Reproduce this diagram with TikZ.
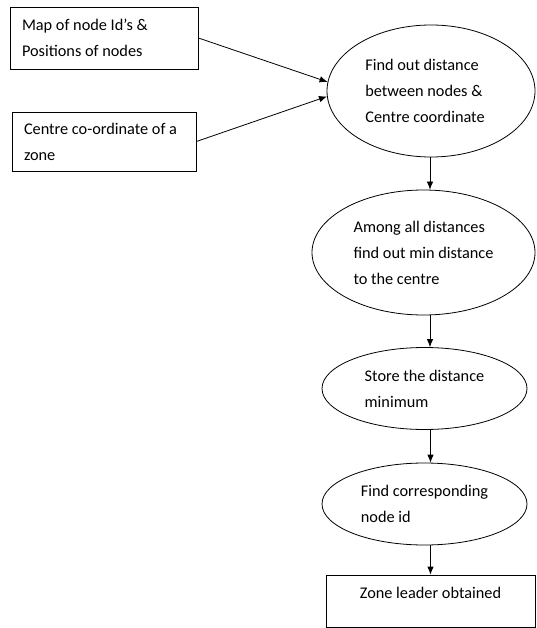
\documentclass[tikz,border=0pt]{standalone}
\usepackage{fontspec}
\setmainfont{Carlito}
\usetikzlibrary{shapes.geometric,arrows.meta,calc}
\begin{document}
\begin{tikzpicture}[x=1pt,y=-1pt,
  every node/.style={font=\fontsize{16.3pt}{26pt}\selectfont, text=black},
  inbox/.style={draw, line width=0.8pt, rectangle, align=flush left, inner xsep=12pt, inner ysep=0pt},
  oval/.style={draw, line width=0.8pt, ellipse, inner sep=0pt, align=left},
  flow/.style={line width=0.8pt, -{Latex[length=8pt,width=6.5pt]}}
]
\useasboundingbox (0,0) rectangle (536,628);
\fill[white] (0,0) rectangle (536,628);

\node[inbox, text width=164pt, minimum height=62pt] (B1) at (104,38) {Map of node Id’s \&\\Positions of nodes};
\node[inbox, text width=160pt, minimum height=59pt] (B2) at (104,141.5) {Centre co-ordinate of a\\zone};

\node[oval, minimum width=208pt, minimum height=132pt] (E1) at (431,91) {Find out distance\\between nodes \&\\Centre coordinate\hspace*{12pt}};
\node[oval, minimum width=223pt, minimum height=125pt] (E2) at (423.5,252.5) {Among all distances\\find out min distance\\to the centre};
\node[oval, minimum width=205pt, minimum height=82pt] (E3) at (424.5,388.5) {Store the distance\\minimum};
\node[oval, minimum width=205pt, minimum height=82pt] (E4) at (424.5,504) {Find corresponding\\node id};
\node[draw, line width=0.8pt, rectangle, minimum width=209pt, minimum height=52pt, inner sep=0pt, text height=11pt, text depth=16pt] (B5) at (430.5,601) {Zone leader obtained};

\coordinate (s1) at ($(E1.south)+(-1,0)$);
\coordinate (s2) at ($(E2.south)+(6.5,0)$);
\coordinate (s3) at ($(E3.south)+(6,0)$);
\coordinate (s4) at ($(E4.south)+(6,0)$);

\draw[flow] (B1.east) -- (E1.175.6);
\draw[flow] (B2.east) -- (E1.183.5);
\draw[flow] (s1) -- (s1 |- E2.north);
\draw[flow] (s2) -- (s2 |- E3.north);
\draw[flow] (s3) -- (s3 |- E4.north);
\draw[flow] (s4) -- (s4 |- B5.north);
\end{tikzpicture}
\end{document}
